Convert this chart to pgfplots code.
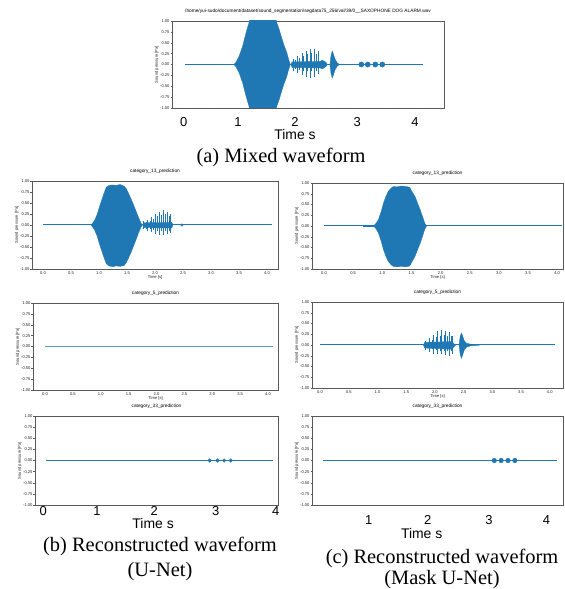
\documentclass[border=0pt]{standalone}
\usepackage{pgfplots}
\pgfplotsset{compat=1.18}
\usepackage{fontspec}
\setmainfont{Liberation Sans}
\newfontfamily\seriffont{Liberation Serif}
\definecolor{wblue}{HTML}{1F77B4}
\newcommand\tf{\fontsize{4.1}{4.5}\selectfont}
\newcommand\ttl{\fontsize{4.8}{5.2}\selectfont}
\newcommand\bigf{\fontsize{13}{14}\selectfont}
\newcommand\timef{\fontsize{14}{15}\selectfont}
\newcommand\capf{\seriffont\fontsize{20.5}{22}\selectfont}

\pgfplotsset{
  wave/.style={
    scale only axis, anchor=south west,
    ymin=-1, ymax=1,
    ytick={-1,-0.75,-0.5,-0.25,0,0.25,0.5,0.75,1},
    xtick={0,0.5,1,1.5,2,2.5,3,3.5,4},
    tick pos=left, tick align=outside,
    major tick length=1.5bp,
    axis line style={black!65, line width=0.4bp},
    tick style={black!65, line width=0.4bp},
    ticklabel style={font=\tf, text=black!85, inner sep=0.8bp},
    /pgf/number format/assume math mode=true,
    yticklabel={\pgfmathprintnumber[fixed, fixed zerofill, precision=2]{\tick}},
    xticklabel={\pgfmathprintnumber[fixed, fixed zerofill, precision=1]{\tick}},
    title style={font=\ttl, inner sep=1bp},
    ylabel={Sound pressure [Pa]},
    ylabel style={font=\tf, text=black!85, inner sep=0.5bp},
    xlabel style={font=\tf, text=black!85, inner sep=0.5bp},
  },
  bigx/.style={
    xticklabels={,,,,,,,,},
    extra x tick style={major tick length=0pt,
      xticklabel style={font=\bigf, text=black, inner sep=0pt, anchor=north, yshift=#1}},
    xlabel={Time s},
    xlabel style={font=\timef, text=black, inner sep=0pt, anchor=north},
  },
}

\begin{document}
\begin{tikzpicture}
\useasboundingbox (0,0) rectangle (565bp,589bp);
\fill[white] (0,0) rectangle (565bp,589bp);

% ---------- (a) mixed waveform ----------
\begin{axis}[wave, bigx=-9.5bp, at={(172bp,481bp)}, width=272bp, height=87bp,
  xmin=-0.223, xmax=4.45,
  title={/home/yui-sudo/document/dataset/sound\_segmentation/segdata75\_256/val/39/0\_\_SAXOPHONE DOG ALARM.wav},
  extra x ticks={-0.02,0.91,1.89,2.96,3.95}, extra x tick labels={0,1,2,3,4},
  xlabel style={at={(rel axis cs:0.452,0)}, yshift=-21bp}]
\addplot[wblue, line width=1bp] coordinates {(0,0) (4.09,0)};
\addplot[wblue, fill=wblue, line width=0.3bp] coordinates {
 (0.84,0)(0.87,0.04)(0.93,0.19)(0.99,0.42)(1.02,0.58)(1.06,0.78)(1.1,0.96)(1.13,1.1)
 (1.55,1.1)(1.58,0.95)(1.62,0.8)(1.66,0.62)(1.7,0.45)(1.75,0.27)(1.78,0.12)(1.81,0)
 (1.78,-0.12)(1.75,-0.27)(1.7,-0.45)(1.66,-0.62)(1.62,-0.8)(1.58,-0.95)(1.55,-1.1)
 (1.13,-1.1)(1.1,-0.96)(1.06,-0.78)(1.02,-0.58)(0.99,-0.42)(0.93,-0.19)(0.87,-0.04)} -- cycle;
\addplot[wblue, fill=wblue, line width=0.3bp] coordinates {
 (1.82,0)(1.84,0.06)(2.32,0.07)(2.36,0.1)(2.42,0.05)(2.45,0)(2.42,-0.05)(2.36,-0.1)(2.32,-0.08)(1.84,-0.07)} -- cycle;
\addplot[ycomb, wblue, line width=0.9bp] coordinates {
 (1.86,0.12)(1.9,0.1)(1.94,0.19)(1.97,0.14)(2.01,0.27)(2.04,0.2)(2.08,0.32)(2.11,0.24)
 (2.15,0.35)(2.18,0.26)(2.22,0.35)(2.26,0.25)(2.30,0.31)};
\addplot[ycomb, wblue, line width=0.9bp] coordinates {
 (1.86,-0.15)(1.9,-0.1)(1.94,-0.2)(1.97,-0.12)(2.01,-0.24)(2.04,-0.14)(2.08,-0.28)(2.11,-0.15)
 (2.15,-0.3)(2.18,-0.16)(2.22,-0.28)(2.26,-0.15)(2.30,-0.22)};
\addplot[wblue, fill=wblue, line width=0.3bp] coordinates {
 (2.49,0)(2.51,0.22)(2.53,0.31)(2.55,0.24)(2.58,0.12)(2.62,0.03)(2.66,0)
 (2.62,-0.03)(2.58,-0.12)(2.55,-0.24)(2.53,-0.31)(2.51,-0.22)} -- cycle;
\addplot[only marks, mark=*, mark size=2.6bp, wblue] coordinates {(3.03,0)(3.14,0)(3.27,0)(3.39,0)};
\end{axis}
\node[font=\capf] at (281bp,432bp) {(a) Mixed waveform};

% ---------- (b) row 1 ----------
\begin{axis}[wave, at={(32bp,320bp)}, width=246bp, height=88bp,
  xmin=-0.196, xmax=4.196, title={category\_13\_prediction}, xlabel={Time [s]}]
\addplot[wblue, line width=1bp] coordinates {(0,0) (4.09,0)};
\addplot[wblue, fill=wblue, line width=0.3bp] coordinates {
 (0.86,0)(0.92,0.1)(0.97,0.25)(1.01,0.42)(1.07,0.65)(1.13,0.86)(1.18,0.9)(1.25,0.91)(1.3,0.9)
 (1.38,0.92)(1.45,0.88)(1.49,0.82)(1.52,0.74)(1.57,0.6)(1.61,0.48)(1.66,0.32)(1.7,0.19)(1.74,0.07)(1.77,0)
 (1.74,-0.08)(1.7,-0.2)(1.66,-0.34)(1.61,-0.5)(1.57,-0.63)(1.52,-0.77)(1.49,-0.85)(1.45,-0.92)
 (1.38,-0.94)(1.3,-0.93)(1.25,-0.95)(1.18,-0.93)(1.13,-0.88)(1.07,-0.67)(1.01,-0.44)(0.97,-0.26)(0.92,-0.11)} -- cycle;
\addplot[wblue, fill=wblue, line width=0.3bp] coordinates {
 (1.78,0)(1.8,0.05)(2.3,0.06)(2.32,0)(2.3,-0.07)(1.8,-0.06)} -- cycle;
\addplot[ycomb, wblue, line width=0.9bp] coordinates {
 (1.80,0.08)(1.84,0.07)(1.87,0.12)(1.91,0.1)(1.94,0.18)(1.98,0.14)(2.01,0.26)(2.05,0.2)
 (2.08,0.3)(2.12,0.22)(2.15,0.33)(2.19,0.24)(2.22,0.3)(2.25,0.2)(2.28,0.25)};
\addplot[ycomb, wblue, line width=0.9bp] coordinates {
 (1.80,-0.1)(1.84,-0.08)(1.87,-0.14)(1.91,-0.1)(1.94,-0.17)(1.98,-0.12)(2.01,-0.2)(2.05,-0.13)
 (2.08,-0.22)(2.12,-0.14)(2.15,-0.22)(2.19,-0.14)(2.22,-0.2)(2.25,-0.13)(2.28,-0.18)};
\addplot[only marks, mark=*, mark size=1.3bp, wblue] coordinates {(2.48,0)};
\end{axis}

% ---------- (c) row 1 ----------
\begin{axis}[wave, at={(312bp,320bp)}, width=251bp, height=86bp,
  xmin=-0.206, xmax=4.10, title={category\_13\_prediction}, xlabel={Time [s]}]
\addplot[wblue, line width=1bp] coordinates {(0,0) (4.09,0)};
\addplot[wblue, line width=1.4bp] coordinates {(0.67,0) (0.86,0)};
\addplot[wblue, fill=wblue, line width=0.3bp] coordinates {
 (0.84,0)(0.88,0.04)(0.93,0.14)(0.98,0.33)(1.02,0.53)(1.06,0.68)(1.1,0.8)(1.15,0.88)(1.19,0.92)
 (1.25,0.91)(1.32,0.93)(1.4,0.92)(1.47,0.9)(1.51,0.8)(1.56,0.69)(1.6,0.55)(1.65,0.38)(1.69,0.22)(1.73,0.06)(1.76,0)
 (1.73,-0.07)(1.69,-0.24)(1.65,-0.4)(1.6,-0.57)(1.56,-0.71)(1.51,-0.83)(1.47,-0.93)(1.4,-0.95)
 (1.32,-0.94)(1.25,-0.95)(1.19,-0.94)(1.15,-0.9)(1.1,-0.82)(1.06,-0.7)(1.02,-0.55)(0.98,-0.35)(0.93,-0.15)(0.88,-0.04)} -- cycle;
\end{axis}

% ---------- (b) row 2 ----------
\begin{axis}[wave, at={(33bp,199bp)}, width=245bp, height=87bp,
  xmin=-0.215, xmax=4.18, title={category\_5\_prediction}, xlabel={Time [s]}]
\addplot[wblue!75, line width=1.2bp] coordinates {(0,0) (4.09,0)};
\end{axis}

% ---------- (c) row 2 ----------
\begin{axis}[wave, at={(312bp,201bp)}, width=251bp, height=86bp,
  xmin=-0.14, xmax=4.23, title={category\_5\_prediction}, xlabel={Time [s]}]
\addplot[wblue, line width=1bp] coordinates {(0,0) (4.09,0)};
\addplot[wblue, fill=wblue, line width=0.3bp] coordinates {
 (1.8,0)(1.82,0.06)(2.3,0.08)(2.33,0.03)(2.36,0)(2.33,-0.04)(2.3,-0.1)(1.82,-0.07)} -- cycle;
\addplot[ycomb, wblue, line width=0.9bp] coordinates {
 (1.84,0.1)(1.88,0.08)(1.91,0.16)(1.95,0.12)(1.98,0.24)(2.02,0.18)(2.05,0.32)(2.09,0.22)
 (2.12,0.34)(2.16,0.24)(2.19,0.33)(2.22,0.22)(2.25,0.3)(2.28,0.2)(2.31,0.22)};
\addplot[ycomb, wblue, line width=0.9bp] coordinates {
 (1.84,-0.12)(1.88,-0.08)(1.91,-0.16)(1.95,-0.1)(1.98,-0.2)(2.02,-0.12)(2.05,-0.22)(2.09,-0.13)
 (2.12,-0.22)(2.16,-0.14)(2.19,-0.23)(2.22,-0.15)(2.25,-0.25)(2.28,-0.14)(2.31,-0.2)};
\addplot[wblue, fill=wblue, line width=0.3bp] coordinates {
 (2.42,0)(2.44,0.2)(2.46,0.28)(2.48,0.22)(2.51,0.1)(2.55,0.04)(2.62,0.02)(2.75,0.01)(2.78,0)
 (2.75,-0.01)(2.62,-0.02)(2.55,-0.05)(2.51,-0.12)(2.48,-0.24)(2.46,-0.31)(2.44,-0.22)} -- cycle;
\end{axis}

% ---------- (b) row 3 ----------
\begin{axis}[wave, bigx=-1bp, at={(35bp,84bp)}, width=243bp, height=89bp,
  xmin=-0.198, xmax=4.18, title={category\_33\_prediction},
  extra x ticks={-0.05,0.92,1.95,3.06,4.14}, extra x tick labels={0,1,2,3,4},
  xlabel style={at={(rel axis cs:0.486,0)}, yshift=-13bp}]
\addplot[wblue, line width=1bp] coordinates {(0,0) (4.09,0)};
\addplot[only marks, mark=*, mark size=1.8bp, wblue] coordinates {(2.95,0)(3.09,0)(3.21,0)(3.33,0)};
\end{axis}
\node[font=\capf] at (160bp,43bp) {(b) Reconstructed waveform};
\node[font=\capf] at (160bp,17bp) {(U-Net)};

% ---------- (c) row 3 ----------
\begin{axis}[wave, bigx=-10.5bp, at={(312bp,84bp)}, width=251bp, height=89bp,
  xmin=-0.19, xmax=4.19, title={category\_33\_prediction},
  extra x ticks={0.80,1.83,2.90,3.90}, extra x tick labels={1,2,3,4},
  xlabel style={at={(rel axis cs:0.437,0)}, yshift=-23bp}]
\addplot[wblue, line width=1bp] coordinates {(0,0) (4.09,0)};
\addplot[wblue, line width=1.6bp] coordinates {(2.85,0) (3.75,0)};
\addplot[only marks, mark=*, mark size=2.3bp, wblue] coordinates {(2.99,0)(3.11,0)(3.23,0)(3.35,0)};
\end{axis}
\node[font=\capf] at (442bp,31bp) {(c) Reconstructed waveform};
\node[font=\capf] at (442bp,9.5bp) {(Mask U-Net)};
\end{tikzpicture}
\end{document}
